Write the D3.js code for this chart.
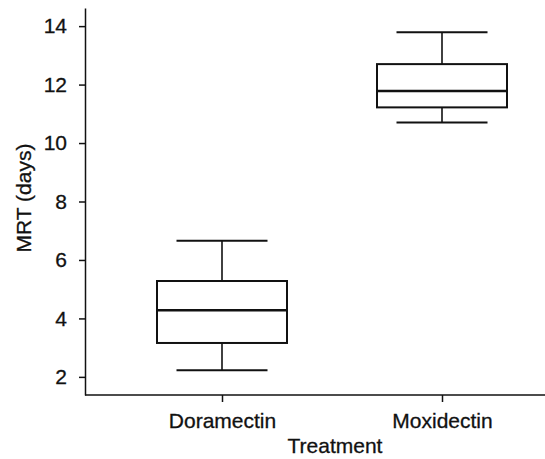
<!DOCTYPE html>
<html>
<head>
<meta charset="utf-8">
<script src="https://cdn.jsdelivr.net/npm/d3@7"></script>
<style>
  body { margin: 0; background: #fff; }
  text { font-family: "Liberation Sans", Arial, sans-serif; fill: #111; stroke: #111; stroke-width: 0.3px; }
</style>
</head>
<body>
<div id="chart"></div>
<script>
// box plot of mean residence time per treatment
const categories = ["Doramectin", "Moxidectin"];
const whiskerLow = [2.23, 10.70];
const q1 = [3.16, 11.22];
const median = [4.28, 11.78];
const q3 = [5.28, 12.70];
const whiskerHigh = [6.66, 13.79];
const yTicks = [2, 4, 6, 8, 10, 12, 14];

const width = 545, height = 459;
const marginLeft = 85, axisBottom = 395, axisTop = 8;
const fontSize = 21;

const boxes = categories.map((c, i) => ({
  cat: c, lo: whiskerLow[i], q1: q1[i], med: median[i], q3: q3[i], hi: whiskerHigh[i]
}));

const svg = d3.select("#chart")
  .append("svg")
  .attr("width", width)
  .attr("height", height);

const x = d3.scalePoint().domain(categories).range([222, 442]);
const y = d3.scaleLinear().domain([1.38, 14.62]).range([axisBottom, axisTop]);

const boxW = 130, capW = 91;

// y axis
const yAxis = svg.append("g")
  .attr("transform", `translate(${marginLeft},0)`)
  .call(d3.axisLeft(y).tickValues(yTicks).tickSize(6).tickPadding(12).tickSizeOuter(0));
yAxis.select(".domain").attr("stroke", "#111").attr("stroke-width", 1.5);
yAxis.selectAll(".tick line").attr("stroke", "#111").attr("stroke-width", 1.5);
yAxis.selectAll(".tick text")
  .attr("font-size", fontSize)
  .attr("font-family", "Liberation Sans, Arial, sans-serif")
  .attr("fill", "#111");

// x axis
const xAxis = svg.append("g")
  .attr("transform", `translate(0,${axisBottom})`)
  .call(d3.axisBottom(x).tickSize(7).tickPadding(11).tickSizeOuter(0));
xAxis.select(".domain").attr("d", `M${marginLeft},0H${width}`).attr("stroke", "#111").attr("stroke-width", 1.5);
xAxis.selectAll(".tick line").attr("stroke", "#111").attr("stroke-width", 1.5);
xAxis.selectAll(".tick text")
  .attr("font-size", fontSize)
  .attr("font-family", "Liberation Sans, Arial, sans-serif")
  .attr("fill", "#111");

const g = svg.append("g").attr("stroke", "#111").attr("fill", "none");

// whiskers
g.selectAll(".whisk")
  .data(boxes.flatMap(d => [[d, d.lo, d.q1], [d, d.q3, d.hi]]))
  .join("line")
  .attr("x1", d => x(d[0].cat)).attr("x2", d => x(d[0].cat))
  .attr("y1", d => y(d[1])).attr("y2", d => y(d[2]))
  .attr("stroke-width", 1.6);

// caps
g.selectAll(".cap")
  .data(boxes.flatMap(d => [[d, d.lo], [d, d.hi]]))
  .join("line")
  .attr("x1", d => x(d[0].cat) - capW / 2).attr("x2", d => x(d[0].cat) + capW / 2)
  .attr("y1", d => y(d[1])).attr("y2", d => y(d[1]))
  .attr("stroke-width", 2);

// boxes
g.selectAll("rect")
  .data(boxes)
  .join("rect")
  .attr("x", d => x(d.cat) - boxW / 2)
  .attr("width", boxW)
  .attr("y", d => y(d.q3))
  .attr("height", d => y(d.q1) - y(d.q3))
  .attr("stroke-width", 2);

// medians
g.selectAll(".med")
  .data(boxes)
  .join("line")
  .attr("x1", d => x(d.cat) - boxW / 2).attr("x2", d => x(d.cat) + boxW / 2)
  .attr("y1", d => y(d.med)).attr("y2", d => y(d.med))
  .attr("stroke-width", 2.6);

// axis titles
svg.append("text")
  .attr("x", 335).attr("y", 453)
  .attr("text-anchor", "middle")
  .attr("font-size", fontSize)
  .text("Treatment");

svg.append("text")
  .attr("transform", "translate(31,198) rotate(-90)")
  .attr("text-anchor", "middle")
  .attr("font-size", fontSize)
  .text("MRT (days)");
</script>
</body>
</html>
